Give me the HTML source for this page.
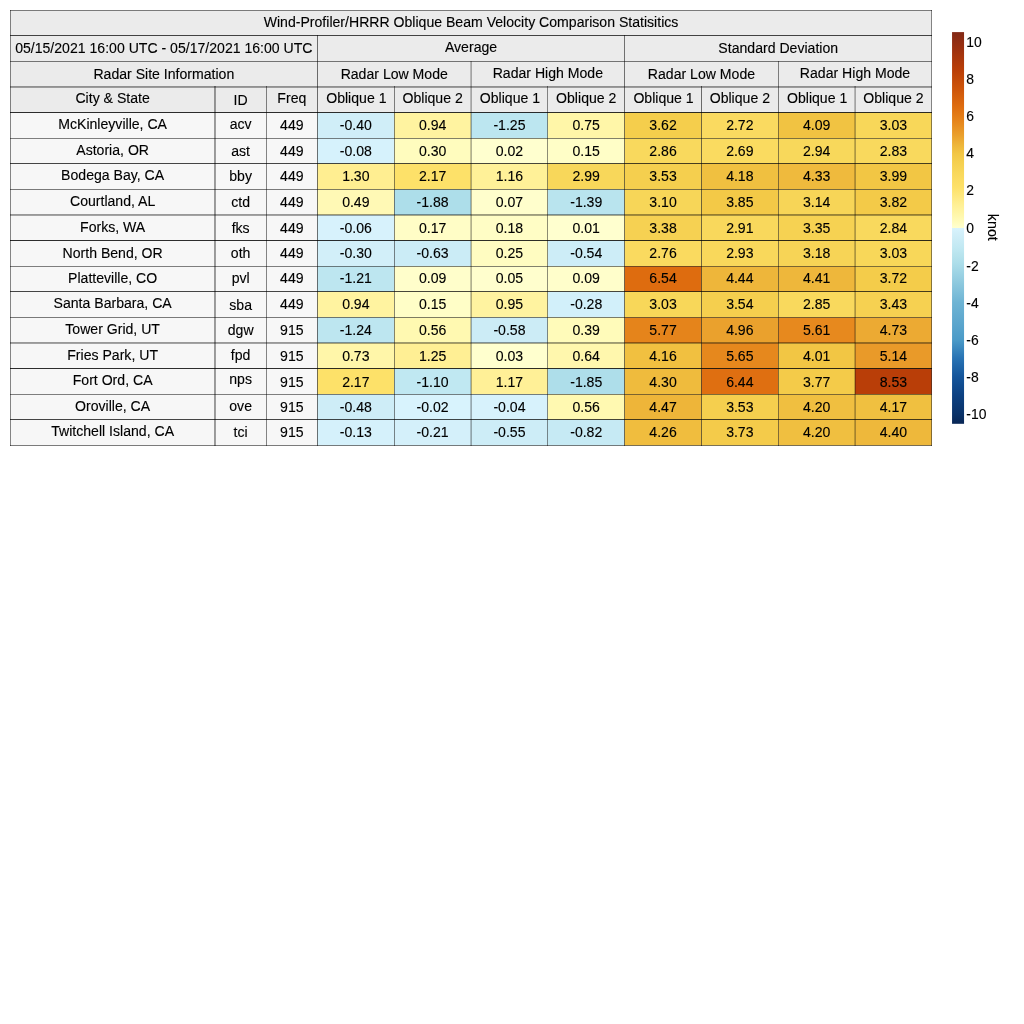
<!DOCTYPE html>
<html><head><meta charset="utf-8"><title>Wind-Profiler/HRRR Oblique Beam Velocity Comparison Statisitics</title>
<style>html,body{margin:0;padding:0;background:#fff}svg{display:block}text{font-family:"Liberation Sans",Arial,Helvetica,sans-serif;font-size:14.09px;fill:#000;stroke:#000;stroke-width:0.12px}</style>
</head><body><svg width="1024" height="1024" viewBox="0 0 1024 1024">
<rect width="1024" height="1024" fill="#fff"/>
<rect x="10.24" y="10.24" width="921.60" height="102.40" fill="#ebebeb"/>
<rect x="10.24" y="112.64" width="307.20" height="332.80" fill="#f7f7f7"/>
<rect x="317.44" y="112.64" width="76.80" height="25.60" fill="rgb(208,238,248)"/>
<rect x="394.24" y="112.64" width="76.80" height="25.60" fill="rgb(255,243,160)"/>
<rect x="471.04" y="112.64" width="76.80" height="25.60" fill="rgb(188,230,240)"/>
<rect x="547.84" y="112.64" width="76.80" height="25.60" fill="rgb(255,246,168)"/>
<rect x="624.64" y="112.64" width="76.80" height="25.60" fill="rgb(245,206,76)"/>
<rect x="701.44" y="112.64" width="76.80" height="25.60" fill="rgb(250,218,96)"/>
<rect x="778.24" y="112.64" width="76.80" height="25.60" fill="rgb(241,195,66)"/>
<rect x="855.04" y="112.64" width="76.80" height="25.60" fill="rgb(248,215,89)"/>
<rect x="317.44" y="138.24" width="76.80" height="25.60" fill="rgb(214,242,252)"/>
<rect x="394.24" y="138.24" width="76.80" height="25.60" fill="rgb(255,252,190)"/>
<rect x="471.04" y="138.24" width="76.80" height="25.60" fill="rgb(255,255,207)"/>
<rect x="547.84" y="138.24" width="76.80" height="25.60" fill="rgb(255,254,199)"/>
<rect x="624.64" y="138.24" width="76.80" height="25.60" fill="rgb(249,217,93)"/>
<rect x="701.44" y="138.24" width="76.80" height="25.60" fill="rgb(250,219,96)"/>
<rect x="778.24" y="138.24" width="76.80" height="25.60" fill="rgb(248,216,91)"/>
<rect x="855.04" y="138.24" width="76.80" height="25.60" fill="rgb(249,217,93)"/>
<rect x="317.44" y="163.84" width="76.80" height="25.60" fill="rgb(255,238,145)"/>
<rect x="394.24" y="163.84" width="76.80" height="25.60" fill="rgb(253,225,105)"/>
<rect x="471.04" y="163.84" width="76.80" height="25.60" fill="rgb(255,241,152)"/>
<rect x="547.84" y="163.84" width="76.80" height="25.60" fill="rgb(248,215,90)"/>
<rect x="624.64" y="163.84" width="76.80" height="25.60" fill="rgb(245,207,78)"/>
<rect x="701.44" y="163.84" width="76.80" height="25.60" fill="rgb(240,192,64)"/>
<rect x="778.24" y="163.84" width="76.80" height="25.60" fill="rgb(239,186,61)"/>
<rect x="855.04" y="163.84" width="76.80" height="25.60" fill="rgb(242,198,68)"/>
<rect x="317.44" y="189.44" width="76.80" height="25.60" fill="rgb(255,249,181)"/>
<rect x="394.24" y="189.44" width="76.80" height="25.60" fill="rgb(173,222,234)"/>
<rect x="471.04" y="189.44" width="76.80" height="25.60" fill="rgb(255,254,204)"/>
<rect x="547.84" y="189.44" width="76.80" height="25.60" fill="rgb(185,228,238)"/>
<rect x="624.64" y="189.44" width="76.80" height="25.60" fill="rgb(247,214,88)"/>
<rect x="701.44" y="189.44" width="76.80" height="25.60" fill="rgb(243,201,71)"/>
<rect x="778.24" y="189.44" width="76.80" height="25.60" fill="rgb(247,213,87)"/>
<rect x="855.04" y="189.44" width="76.80" height="25.60" fill="rgb(243,202,72)"/>
<rect x="317.44" y="215.04" width="76.80" height="25.60" fill="rgb(215,242,252)"/>
<rect x="394.24" y="215.04" width="76.80" height="25.60" fill="rgb(255,253,198)"/>
<rect x="471.04" y="215.04" width="76.80" height="25.60" fill="rgb(255,253,197)"/>
<rect x="547.84" y="215.04" width="76.80" height="25.60" fill="rgb(255,255,207)"/>
<rect x="624.64" y="215.04" width="76.80" height="25.60" fill="rgb(246,209,82)"/>
<rect x="701.44" y="215.04" width="76.80" height="25.60" fill="rgb(249,216,92)"/>
<rect x="778.24" y="215.04" width="76.80" height="25.60" fill="rgb(246,210,82)"/>
<rect x="855.04" y="215.04" width="76.80" height="25.60" fill="rgb(249,217,93)"/>
<rect x="317.44" y="240.64" width="76.80" height="25.60" fill="rgb(210,239,249)"/>
<rect x="394.24" y="240.64" width="76.80" height="25.60" fill="rgb(203,236,246)"/>
<rect x="471.04" y="240.64" width="76.80" height="25.60" fill="rgb(255,252,193)"/>
<rect x="547.84" y="240.64" width="76.80" height="25.60" fill="rgb(205,237,247)"/>
<rect x="624.64" y="240.64" width="76.80" height="25.60" fill="rgb(250,218,95)"/>
<rect x="701.44" y="240.64" width="76.80" height="25.60" fill="rgb(249,216,91)"/>
<rect x="778.24" y="240.64" width="76.80" height="25.60" fill="rgb(247,212,86)"/>
<rect x="855.04" y="240.64" width="76.80" height="25.60" fill="rgb(248,215,89)"/>
<rect x="317.44" y="266.24" width="76.80" height="25.60" fill="rgb(189,230,240)"/>
<rect x="394.24" y="266.24" width="76.80" height="25.60" fill="rgb(255,254,203)"/>
<rect x="471.04" y="266.24" width="76.80" height="25.60" fill="rgb(255,254,205)"/>
<rect x="547.84" y="266.24" width="76.80" height="25.60" fill="rgb(255,254,203)"/>
<rect x="624.64" y="266.24" width="76.80" height="25.60" fill="rgb(222,108,15)"/>
<rect x="701.44" y="266.24" width="76.80" height="25.60" fill="rgb(238,182,58)"/>
<rect x="778.24" y="266.24" width="76.80" height="25.60" fill="rgb(238,183,59)"/>
<rect x="855.04" y="266.24" width="76.80" height="25.60" fill="rgb(244,204,74)"/>
<rect x="317.44" y="291.84" width="76.80" height="25.60" fill="rgb(255,243,160)"/>
<rect x="394.24" y="291.84" width="76.80" height="25.60" fill="rgb(255,254,199)"/>
<rect x="471.04" y="291.84" width="76.80" height="25.60" fill="rgb(255,243,160)"/>
<rect x="547.84" y="291.84" width="76.80" height="25.60" fill="rgb(210,240,250)"/>
<rect x="624.64" y="291.84" width="76.80" height="25.60" fill="rgb(248,215,89)"/>
<rect x="701.44" y="291.84" width="76.80" height="25.60" fill="rgb(245,207,78)"/>
<rect x="778.24" y="291.84" width="76.80" height="25.60" fill="rgb(249,217,93)"/>
<rect x="855.04" y="291.84" width="76.80" height="25.60" fill="rgb(246,209,81)"/>
<rect x="317.44" y="317.44" width="76.80" height="25.60" fill="rgb(189,230,240)"/>
<rect x="394.24" y="317.44" width="76.80" height="25.60" fill="rgb(255,249,177)"/>
<rect x="471.04" y="317.44" width="76.80" height="25.60" fill="rgb(204,236,246)"/>
<rect x="547.84" y="317.44" width="76.80" height="25.60" fill="rgb(255,251,186)"/>
<rect x="624.64" y="317.44" width="76.80" height="25.60" fill="rgb(229,132,27)"/>
<rect x="701.44" y="317.44" width="76.80" height="25.60" fill="rgb(234,161,45)"/>
<rect x="778.24" y="317.44" width="76.80" height="25.60" fill="rgb(231,137,30)"/>
<rect x="855.04" y="317.44" width="76.80" height="25.60" fill="rgb(236,170,51)"/>
<rect x="317.44" y="343.04" width="76.80" height="25.60" fill="rgb(255,246,169)"/>
<rect x="394.24" y="343.04" width="76.80" height="25.60" fill="rgb(255,239,148)"/>
<rect x="471.04" y="343.04" width="76.80" height="25.60" fill="rgb(255,255,206)"/>
<rect x="547.84" y="343.04" width="76.80" height="25.60" fill="rgb(255,247,173)"/>
<rect x="624.64" y="343.04" width="76.80" height="25.60" fill="rgb(241,192,64)"/>
<rect x="701.44" y="343.04" width="76.80" height="25.60" fill="rgb(230,136,29)"/>
<rect x="778.24" y="343.04" width="76.80" height="25.60" fill="rgb(242,198,68)"/>
<rect x="855.04" y="343.04" width="76.80" height="25.60" fill="rgb(233,154,41)"/>
<rect x="317.44" y="368.64" width="76.80" height="25.60" fill="rgb(253,225,105)"/>
<rect x="394.24" y="368.64" width="76.80" height="25.60" fill="rgb(192,232,242)"/>
<rect x="471.04" y="368.64" width="76.80" height="25.60" fill="rgb(255,240,151)"/>
<rect x="547.84" y="368.64" width="76.80" height="25.60" fill="rgb(174,222,234)"/>
<rect x="624.64" y="368.64" width="76.80" height="25.60" fill="rgb(239,187,61)"/>
<rect x="701.44" y="368.64" width="76.80" height="25.60" fill="rgb(223,111,17)"/>
<rect x="778.24" y="368.64" width="76.80" height="25.60" fill="rgb(244,203,73)"/>
<rect x="855.04" y="368.64" width="76.80" height="25.60" fill="rgb(185,62,8)"/>
<rect x="317.44" y="394.24" width="76.80" height="25.60" fill="rgb(206,237,247)"/>
<rect x="394.24" y="394.24" width="76.80" height="25.60" fill="rgb(216,243,253)"/>
<rect x="471.04" y="394.24" width="76.80" height="25.60" fill="rgb(215,242,252)"/>
<rect x="547.84" y="394.24" width="76.80" height="25.60" fill="rgb(255,249,177)"/>
<rect x="624.64" y="394.24" width="76.80" height="25.60" fill="rgb(238,181,57)"/>
<rect x="701.44" y="394.24" width="76.80" height="25.60" fill="rgb(245,207,78)"/>
<rect x="778.24" y="394.24" width="76.80" height="25.60" fill="rgb(240,191,64)"/>
<rect x="855.04" y="394.24" width="76.80" height="25.60" fill="rgb(240,192,64)"/>
<rect x="317.44" y="419.84" width="76.80" height="25.60" fill="rgb(213,241,251)"/>
<rect x="394.24" y="419.84" width="76.80" height="25.60" fill="rgb(212,240,250)"/>
<rect x="471.04" y="419.84" width="76.80" height="25.60" fill="rgb(205,237,247)"/>
<rect x="547.84" y="419.84" width="76.80" height="25.60" fill="rgb(198,234,244)"/>
<rect x="624.64" y="419.84" width="76.80" height="25.60" fill="rgb(240,189,62)"/>
<rect x="701.44" y="419.84" width="76.80" height="25.60" fill="rgb(244,203,74)"/>
<rect x="778.24" y="419.84" width="76.80" height="25.60" fill="rgb(240,191,64)"/>
<rect x="855.04" y="419.84" width="76.80" height="25.60" fill="rgb(238,184,59)"/>
<text x="471.04" y="27" text-anchor="middle">Wind-Profiler/HRRR Oblique Beam Velocity Comparison Statisitics</text>
<text x="163.84" y="53" text-anchor="middle">05/15/2021 16:00 UTC - 05/17/2021 16:00 UTC</text>
<text x="471.04" y="52" text-anchor="middle">Average</text>
<text x="778.24" y="53" text-anchor="middle">Standard Deviation</text>
<text x="163.84" y="79" text-anchor="middle">Radar Site Information</text>
<text x="394.24" y="79" text-anchor="middle">Radar Low Mode</text>
<text x="547.84" y="78" text-anchor="middle">Radar High Mode</text>
<text x="701.44" y="79" text-anchor="middle">Radar Low Mode</text>
<text x="855.04" y="78" text-anchor="middle">Radar High Mode</text>
<text x="112.64" y="103" text-anchor="middle">City &amp; State</text>
<text x="240.64" y="105" text-anchor="middle">ID</text>
<text x="291.84" y="103" text-anchor="middle">Freq</text>
<text x="356.34" y="103" text-anchor="middle">Oblique 1</text>
<text x="432.64" y="103" text-anchor="middle">Oblique 2</text>
<text x="509.94" y="103" text-anchor="middle">Oblique 1</text>
<text x="586.24" y="103" text-anchor="middle">Oblique 2</text>
<text x="663.54" y="103" text-anchor="middle">Oblique 1</text>
<text x="739.84" y="103" text-anchor="middle">Oblique 2</text>
<text x="817.14" y="103" text-anchor="middle">Oblique 1</text>
<text x="893.44" y="103" text-anchor="middle">Oblique 2</text>
<text x="112.64" y="129" text-anchor="middle">McKinleyville, CA</text>
<text x="240.64" y="129" text-anchor="middle">acv</text>
<text x="291.84" y="130" text-anchor="middle">449</text>
<text x="355.84" y="130" text-anchor="middle">-0.40</text>
<text x="432.64" y="130" text-anchor="middle">0.94</text>
<text x="509.44" y="130" text-anchor="middle">-1.25</text>
<text x="586.24" y="130" text-anchor="middle">0.75</text>
<text x="663.04" y="130" text-anchor="middle">3.62</text>
<text x="739.84" y="130" text-anchor="middle">2.72</text>
<text x="816.64" y="130" text-anchor="middle">4.09</text>
<text x="893.44" y="130" text-anchor="middle">3.03</text>
<text x="112.64" y="155" text-anchor="middle">Astoria, OR</text>
<text x="240.64" y="156" text-anchor="middle">ast</text>
<text x="291.84" y="156" text-anchor="middle">449</text>
<text x="355.84" y="156" text-anchor="middle">-0.08</text>
<text x="432.64" y="156" text-anchor="middle">0.30</text>
<text x="509.44" y="156" text-anchor="middle">0.02</text>
<text x="586.24" y="156" text-anchor="middle">0.15</text>
<text x="663.04" y="156" text-anchor="middle">2.86</text>
<text x="739.84" y="156" text-anchor="middle">2.69</text>
<text x="816.64" y="156" text-anchor="middle">2.94</text>
<text x="893.44" y="156" text-anchor="middle">2.83</text>
<text x="112.64" y="180" text-anchor="middle">Bodega Bay, CA</text>
<text x="240.64" y="181" text-anchor="middle">bby</text>
<text x="291.84" y="181" text-anchor="middle">449</text>
<text x="355.84" y="181" text-anchor="middle">1.30</text>
<text x="432.64" y="181" text-anchor="middle">2.17</text>
<text x="509.44" y="181" text-anchor="middle">1.16</text>
<text x="586.24" y="181" text-anchor="middle">2.99</text>
<text x="663.04" y="181" text-anchor="middle">3.53</text>
<text x="739.84" y="181" text-anchor="middle">4.18</text>
<text x="816.64" y="181" text-anchor="middle">4.33</text>
<text x="893.44" y="181" text-anchor="middle">3.99</text>
<text x="112.64" y="206" text-anchor="middle">Courtland, AL</text>
<text x="240.64" y="207" text-anchor="middle">ctd</text>
<text x="291.84" y="207" text-anchor="middle">449</text>
<text x="355.84" y="207" text-anchor="middle">0.49</text>
<text x="432.64" y="207" text-anchor="middle">-1.88</text>
<text x="509.44" y="207" text-anchor="middle">0.07</text>
<text x="586.24" y="207" text-anchor="middle">-1.39</text>
<text x="663.04" y="207" text-anchor="middle">3.10</text>
<text x="739.84" y="207" text-anchor="middle">3.85</text>
<text x="816.64" y="207" text-anchor="middle">3.14</text>
<text x="893.44" y="207" text-anchor="middle">3.82</text>
<text x="112.64" y="232" text-anchor="middle">Forks, WA</text>
<text x="240.64" y="233" text-anchor="middle">fks</text>
<text x="291.84" y="233" text-anchor="middle">449</text>
<text x="355.84" y="233" text-anchor="middle">-0.06</text>
<text x="432.64" y="233" text-anchor="middle">0.17</text>
<text x="509.44" y="233" text-anchor="middle">0.18</text>
<text x="586.24" y="233" text-anchor="middle">0.01</text>
<text x="663.04" y="233" text-anchor="middle">3.38</text>
<text x="739.84" y="233" text-anchor="middle">2.91</text>
<text x="816.64" y="233" text-anchor="middle">3.35</text>
<text x="893.44" y="233" text-anchor="middle">2.84</text>
<text x="112.64" y="258" text-anchor="middle">North Bend, OR</text>
<text x="240.64" y="258" text-anchor="middle">oth</text>
<text x="291.84" y="258" text-anchor="middle">449</text>
<text x="355.84" y="258" text-anchor="middle">-0.30</text>
<text x="432.64" y="258" text-anchor="middle">-0.63</text>
<text x="509.44" y="258" text-anchor="middle">0.25</text>
<text x="586.24" y="258" text-anchor="middle">-0.54</text>
<text x="663.04" y="258" text-anchor="middle">2.76</text>
<text x="739.84" y="258" text-anchor="middle">2.93</text>
<text x="816.64" y="258" text-anchor="middle">3.18</text>
<text x="893.44" y="258" text-anchor="middle">3.03</text>
<text x="112.64" y="283" text-anchor="middle">Platteville, CO</text>
<text x="240.64" y="283" text-anchor="middle">pvl</text>
<text x="291.84" y="283" text-anchor="middle">449</text>
<text x="355.84" y="283" text-anchor="middle">-1.21</text>
<text x="432.64" y="283" text-anchor="middle">0.09</text>
<text x="509.44" y="283" text-anchor="middle">0.05</text>
<text x="586.24" y="283" text-anchor="middle">0.09</text>
<text x="663.04" y="283" text-anchor="middle">6.54</text>
<text x="739.84" y="283" text-anchor="middle">4.44</text>
<text x="816.64" y="283" text-anchor="middle">4.41</text>
<text x="893.44" y="283" text-anchor="middle">3.72</text>
<text x="112.64" y="308" text-anchor="middle">Santa Barbara, CA</text>
<text x="240.64" y="310" text-anchor="middle">sba</text>
<text x="291.84" y="309" text-anchor="middle">449</text>
<text x="355.84" y="309" text-anchor="middle">0.94</text>
<text x="432.64" y="309" text-anchor="middle">0.15</text>
<text x="509.44" y="309" text-anchor="middle">0.95</text>
<text x="586.24" y="309" text-anchor="middle">-0.28</text>
<text x="663.04" y="309" text-anchor="middle">3.03</text>
<text x="739.84" y="309" text-anchor="middle">3.54</text>
<text x="816.64" y="309" text-anchor="middle">2.85</text>
<text x="893.44" y="309" text-anchor="middle">3.43</text>
<text x="112.64" y="334" text-anchor="middle">Tower Grid, UT</text>
<text x="240.64" y="335" text-anchor="middle">dgw</text>
<text x="291.84" y="335" text-anchor="middle">915</text>
<text x="355.84" y="335" text-anchor="middle">-1.24</text>
<text x="432.64" y="335" text-anchor="middle">0.56</text>
<text x="509.44" y="335" text-anchor="middle">-0.58</text>
<text x="586.24" y="335" text-anchor="middle">0.39</text>
<text x="663.04" y="335" text-anchor="middle">5.77</text>
<text x="739.84" y="335" text-anchor="middle">4.96</text>
<text x="816.64" y="335" text-anchor="middle">5.61</text>
<text x="893.44" y="335" text-anchor="middle">4.73</text>
<text x="112.64" y="360" text-anchor="middle">Fries Park, UT</text>
<text x="240.64" y="360" text-anchor="middle">fpd</text>
<text x="291.84" y="361" text-anchor="middle">915</text>
<text x="355.84" y="361" text-anchor="middle">0.73</text>
<text x="432.64" y="361" text-anchor="middle">1.25</text>
<text x="509.44" y="361" text-anchor="middle">0.03</text>
<text x="586.24" y="361" text-anchor="middle">0.64</text>
<text x="663.04" y="361" text-anchor="middle">4.16</text>
<text x="739.84" y="361" text-anchor="middle">5.65</text>
<text x="816.64" y="361" text-anchor="middle">4.01</text>
<text x="893.44" y="361" text-anchor="middle">5.14</text>
<text x="112.64" y="385" text-anchor="middle">Fort Ord, CA</text>
<text x="240.64" y="384" text-anchor="middle">nps</text>
<text x="291.84" y="387" text-anchor="middle">915</text>
<text x="355.84" y="387" text-anchor="middle">2.17</text>
<text x="432.64" y="387" text-anchor="middle">-1.10</text>
<text x="509.44" y="387" text-anchor="middle">1.17</text>
<text x="586.24" y="387" text-anchor="middle">-1.85</text>
<text x="663.04" y="387" text-anchor="middle">4.30</text>
<text x="739.84" y="387" text-anchor="middle">6.44</text>
<text x="816.64" y="387" text-anchor="middle">3.77</text>
<text x="893.44" y="387" text-anchor="middle">8.53</text>
<text x="112.64" y="411" text-anchor="middle">Oroville, CA</text>
<text x="240.64" y="411" text-anchor="middle">ove</text>
<text x="291.84" y="412" text-anchor="middle">915</text>
<text x="355.84" y="412" text-anchor="middle">-0.48</text>
<text x="432.64" y="412" text-anchor="middle">-0.02</text>
<text x="509.44" y="412" text-anchor="middle">-0.04</text>
<text x="586.24" y="412" text-anchor="middle">0.56</text>
<text x="663.04" y="412" text-anchor="middle">4.47</text>
<text x="739.84" y="412" text-anchor="middle">3.53</text>
<text x="816.64" y="412" text-anchor="middle">4.20</text>
<text x="893.44" y="412" text-anchor="middle">4.17</text>
<text x="112.64" y="436" text-anchor="middle">Twitchell Island, CA</text>
<text x="240.64" y="437" text-anchor="middle">tci</text>
<text x="291.84" y="437" text-anchor="middle">915</text>
<text x="355.84" y="437" text-anchor="middle">-0.13</text>
<text x="432.64" y="437" text-anchor="middle">-0.21</text>
<text x="509.44" y="437" text-anchor="middle">-0.55</text>
<text x="586.24" y="437" text-anchor="middle">-0.82</text>
<text x="663.04" y="437" text-anchor="middle">4.26</text>
<text x="739.84" y="437" text-anchor="middle">3.73</text>
<text x="816.64" y="437" text-anchor="middle">4.20</text>
<text x="893.44" y="437" text-anchor="middle">4.40</text>
<rect x="10" y="10" width="922" height="1" fill="rgba(0,0,0,0.49)"/>
<rect x="10" y="35" width="922" height="1" fill="rgba(0,0,0,0.72)"/>
<rect x="10" y="61" width="922" height="1" fill="rgba(0,0,0,0.51)"/>
<rect x="10" y="86" width="922" height="1" fill="rgba(0,0,0,0.38)"/>
<rect x="10" y="87" width="922" height="1" fill="rgba(0,0,0,0.34)"/>
<rect x="10" y="112" width="922" height="1" fill="rgba(0,0,0,0.82)"/>
<rect x="10" y="138" width="922" height="1" fill="rgba(0,0,0,0.49)"/>
<rect x="10" y="163" width="922" height="1" fill="rgba(0,0,0,0.72)"/>
<rect x="10" y="189" width="922" height="1" fill="rgba(0,0,0,0.51)"/>
<rect x="10" y="214" width="922" height="1" fill="rgba(0,0,0,0.38)"/>
<rect x="10" y="215" width="922" height="1" fill="rgba(0,0,0,0.34)"/>
<rect x="10" y="240" width="922" height="1" fill="rgba(0,0,0,0.82)"/>
<rect x="10" y="266" width="922" height="1" fill="rgba(0,0,0,0.49)"/>
<rect x="10" y="291" width="922" height="1" fill="rgba(0,0,0,0.72)"/>
<rect x="10" y="317" width="922" height="1" fill="rgba(0,0,0,0.51)"/>
<rect x="10" y="342" width="922" height="1" fill="rgba(0,0,0,0.38)"/>
<rect x="10" y="343" width="922" height="1" fill="rgba(0,0,0,0.34)"/>
<rect x="10" y="368" width="922" height="1" fill="rgba(0,0,0,0.82)"/>
<rect x="10" y="394" width="922" height="1" fill="rgba(0,0,0,0.49)"/>
<rect x="10" y="419" width="922" height="1" fill="rgba(0,0,0,0.72)"/>
<rect x="10" y="445" width="922" height="1" fill="rgba(0,0,0,0.51)"/>
<rect x="10" y="10" width="1" height="436" fill="rgba(0,0,0,0.47)"/>
<rect x="931" y="10" width="1" height="436" fill="rgba(0,0,0,0.45)"/>
<rect x="317" y="35" width="1" height="411" fill="rgba(0,0,0,0.55)"/>
<rect x="624" y="35" width="1" height="411" fill="rgba(0,0,0,0.52)"/>
<rect x="470" y="61" width="1" height="385" fill="rgba(0,0,0,0.22)"/>
<rect x="471" y="61" width="1" height="385" fill="rgba(0,0,0,0.3)"/>
<rect x="778" y="61" width="1" height="385" fill="rgba(0,0,0,0.47)"/>
<rect x="214" y="86" width="1" height="360" fill="rgba(0,0,0,0.38)"/>
<rect x="215" y="86" width="1" height="360" fill="rgba(0,0,0,0.36)"/>
<rect x="266" y="86" width="1" height="360" fill="rgba(0,0,0,0.47)"/>
<rect x="394" y="86" width="1" height="360" fill="rgba(0,0,0,0.47)"/>
<rect x="547" y="86" width="1" height="360" fill="rgba(0,0,0,0.45)"/>
<rect x="701" y="86" width="1" height="360" fill="rgba(0,0,0,0.55)"/>
<rect x="854" y="86" width="1" height="360" fill="rgba(0,0,0,0.22)"/>
<rect x="855" y="86" width="1" height="360" fill="rgba(0,0,0,0.3)"/>
<defs><linearGradient id="cb" x1="0" y1="0" x2="0" y2="1"><stop offset="0.0000" stop-color="rgb(130,40,22)"/><stop offset="0.0489" stop-color="rgb(160,50,14)"/><stop offset="0.0950" stop-color="rgb(185,62,8)"/><stop offset="0.1439" stop-color="rgb(205,84,10)"/><stop offset="0.1895" stop-color="rgb(222,108,15)"/><stop offset="0.2293" stop-color="rgb(230,134,28)"/><stop offset="0.2626" stop-color="rgb(234,159,44)"/><stop offset="0.2887" stop-color="rgb(238,182,58)"/><stop offset="0.3101" stop-color="rgb(242,198,68)"/><stop offset="0.3314" stop-color="rgb(245,207,78)"/><stop offset="0.3575" stop-color="rgb(248,215,90)"/><stop offset="0.3694" stop-color="rgb(250,218,95)"/><stop offset="0.3970" stop-color="rgb(253,225,105)"/><stop offset="0.4430" stop-color="rgb(255,240,150)"/><stop offset="0.4644" stop-color="rgb(255,246,168)"/><stop offset="0.4858" stop-color="rgb(255,252,190)"/><stop offset="0.5000" stop-color="rgb(255,255,208)"/><stop offset="0.5000" stop-color="rgb(216,243,253)"/><stop offset="0.5190" stop-color="rgb(208,238,248)"/><stop offset="0.5522" stop-color="rgb(192,232,242)"/><stop offset="0.5660" stop-color="rgb(185,228,238)"/><stop offset="0.5893" stop-color="rgb(173,222,234)"/><stop offset="0.6425" stop-color="rgb(140,200,222)"/><stop offset="0.6899" stop-color="rgb(110,180,212)"/><stop offset="0.7469" stop-color="rgb(90,165,205)"/><stop offset="0.7849" stop-color="rgb(75,155,200)"/><stop offset="0.8324" stop-color="rgb(40,115,180)"/><stop offset="0.8799" stop-color="rgb(20,85,155)"/><stop offset="0.9274" stop-color="rgb(12,65,130)"/><stop offset="0.9748" stop-color="rgb(10,50,105)"/><stop offset="1.0000" stop-color="rgb(8,38,85)"/></linearGradient></defs>
<rect x="952.05" y="32.1" width="12.00" height="391.70" fill="url(#cb)"/>
<text x="966.3" y="47" text-anchor="start" style="font-size:13.9px">10</text>
<text x="966.3" y="84" text-anchor="start" style="font-size:13.9px">8</text>
<text x="966.3" y="121" text-anchor="start" style="font-size:13.9px">6</text>
<text x="966.3" y="158" text-anchor="start" style="font-size:13.9px">4</text>
<text x="966.3" y="195" text-anchor="start" style="font-size:13.9px">2</text>
<text x="966.3" y="233" text-anchor="start" style="font-size:13.9px">0</text>
<text x="966.3" y="271" text-anchor="start" style="font-size:13.9px">-2</text>
<text x="966.3" y="308" text-anchor="start" style="font-size:13.9px">-4</text>
<text x="966.3" y="345" text-anchor="start" style="font-size:13.9px">-6</text>
<text x="966.3" y="382" text-anchor="start" style="font-size:13.9px">-8</text>
<text x="966.3" y="419" text-anchor="start" style="font-size:13.9px">-10</text>
<text transform="translate(988.1,227.3) rotate(90)" text-anchor="middle" style="font-size:14.25px">knot</text>
</svg></body></html>
